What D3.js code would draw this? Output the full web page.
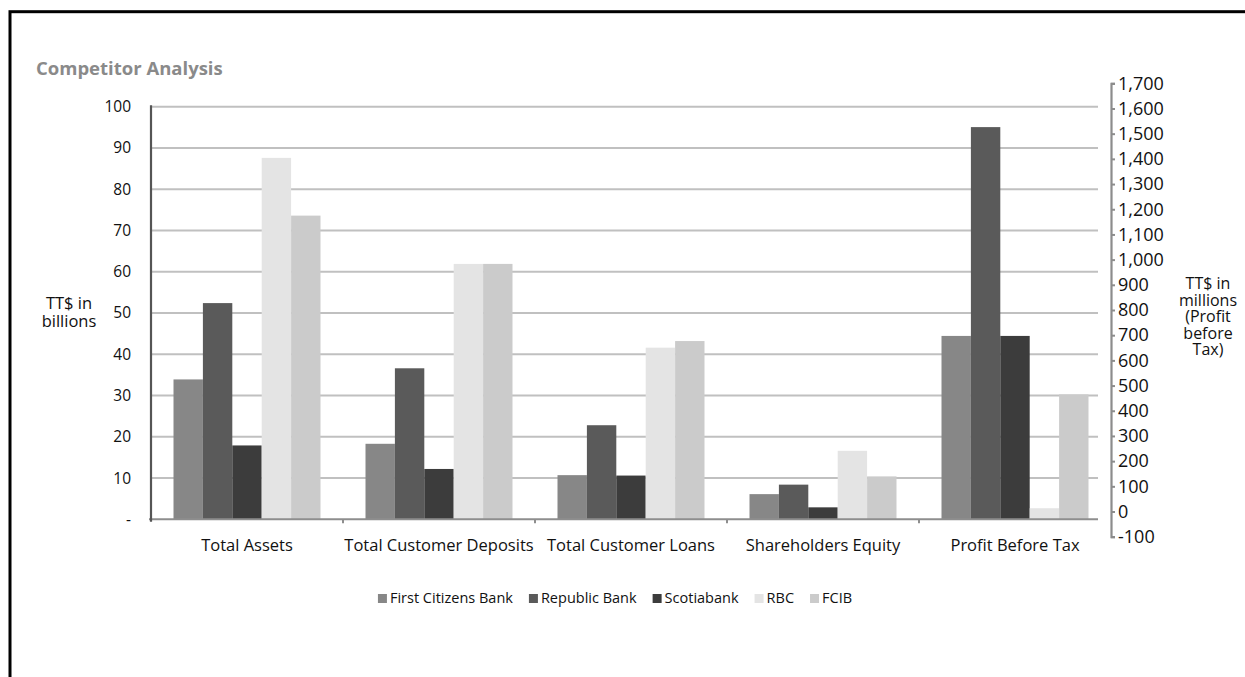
<!DOCTYPE html>
<html>
<head>
<meta charset="utf-8">
<script src="https://cdn.jsdelivr.net/npm/d3@7"></script>
<style>
  body { margin: 0; background: #fff; }
  svg text { font-family: "Open Sans", "Noto Sans", sans-serif; }
</style>
</head>
<body>
<svg id="chart" width="1245" height="677"></svg>
<script>
// categories and series
const categories = ["Total Assets", "Total Customer Deposits", "Total Customer Loans", "Shareholders Equity", "Profit Before Tax"]
const banks = ["First Citizens Bank", "Republic Bank", "Scotiabank", "RBC", "FCIB"]
const colors = ["#878787", "#5a5a5a", "#3c3c3c", "#e4e4e4", "#cbcbcb"]

// TT$ billions, first four categories
const firstCitizens = [33.9, 18.3, 10.7, 6.1]
const republic = [52.4, 36.6, 22.8, 8.4]
const scotia = [17.9, 12.2, 10.6, 2.9]
const rbc = [87.6, 61.9, 41.6, 16.6]
const fcib = [73.6, 61.9, 43.2, 10.4]
// TT$ millions, profit before tax
const profit = [728, 1557, 728, 44, 496]

const leftTicks = [0, 10, 20, 30, 40, 50, 60, 70, 80, 90, 100]
const rightTicks = [-100, 0, 100, 200, 300, 400, 500, 600, 700, 800, 900, 1000, 1100, 1200, 1300, 1400, 1500, 1600, 1700]
const leftTitle = ["TT$ in", "billions"]
const rightTitle = ["TT$ in", "millions", "(Profit", "before", "Tax)"]

const billions = [firstCitizens, republic, scotia, rbc, fcib]

const svg = d3.select("#chart")

// frame
svg.append("rect")
    .attr("x", 10).attr("y", 11.7)
    .attr("width", 1300).attr("height", 700)
    .attr("fill", "none").attr("stroke", "#000").attr("stroke-width", 3)

svg.append("text")
    .attr("x", 36).attr("y", 75)
    .attr("fill", "#8a8a8a").attr("font-size", 18.5).attr("font-weight", "bold")
    .text("Competitor Analysis")

const left = 151, right = 1111, gridEnd = 1098
const x0 = d3.scaleBand().domain(categories).range([left, right])
const x1 = d3.scaleBand().domain(banks).range([22.5, x0.bandwidth() - 22.5])
const y = d3.scaleLinear().domain([0, 100]).range([519.3, 106.7])
const yR = d3.scaleLinear().domain([-100, 1700]).range([536.7, 83.3])

// gridlines
svg.append("g")
    .selectAll("line")
    .data(leftTicks.filter(d => d > 0))
    .enter()
    .append("line")
    .attr("x1", left).attr("x2", gridEnd)
    .attr("y1", d => y(d)).attr("y2", d => y(d))
    .attr("stroke", "#c0c0c0").attr("stroke-width", 2)

// bars
const rows = []
banks.forEach((b, i) => {
    categories.forEach((c, j) => {
        if (j < 4) {
            rows.push({ bank: b, cat: c, top: y(billions[i][j]), h: y(0) - y(billions[i][j]), color: colors[i] })
        } else {
            let h = yR(0) - yR(profit[i])
            rows.push({ bank: b, cat: c, top: y(0) - h, h: h, color: colors[i] })
        }
    })
})

svg.append("g")
    .selectAll("rect")
    .data(rows)
    .enter()
    .append("rect")
    .attr("x", d => x0(d.cat) + x1(d.bank))
    .attr("width", x1.bandwidth())
    .attr("y", d => d.top)
    .attr("height", d => d.h)
    .attr("fill", d => d.color)

// baseline + category ticks
svg.append("line")
    .attr("x1", left - 2).attr("x2", gridEnd)
    .attr("y1", y(0)).attr("y2", y(0))
    .attr("stroke", "#8e8e8e").attr("stroke-width", 2)

svg.append("g")
    .selectAll("line")
    .data(categories.slice(1))
    .enter()
    .append("line")
    .attr("x1", d => x0(d)).attr("x2", d => x0(d))
    .attr("y1", y(0)).attr("y2", y(0) + 4)
    .attr("stroke", "#8e8e8e").attr("stroke-width", 2)

// left axis
const yAxis = d3.axisLeft(y)
    .tickValues(leftTicks)
    .tickSize(0)
    .tickPadding(20)
    .tickFormat(d => d === 0 ? "-" : d)

const gl = svg.append("g").attr("transform", `translate(${left},0)`).call(yAxis)
gl.select(".domain").remove()
gl.selectAll("text").attr("font-size", 15.5).attr("fill", "#111").attr("font-family", null)

svg.append("line")
    .attr("x1", left).attr("x2", left)
    .attr("y1", y(100) - 1.5).attr("y2", y(0) + 2.5)
    .attr("stroke", "#555").attr("stroke-width", 2.2)

// right axis
const yAxisR = d3.axisRight(yR)
    .tickValues(rightTicks)
    .tickSize(4)
    .tickPadding(3)
    .tickFormat(d => d3.format(",")(d).replace("\u2212", "-"))

const gr = svg.append("g").attr("transform", `translate(${right},0)`).call(yAxisR)
gr.select(".domain").attr("stroke", "#8c8c8c").attr("stroke-width", 2.2)
gr.selectAll(".tick line").attr("stroke", "#8c8c8c").attr("stroke-width", 2)
gr.selectAll("text").attr("font-size", 18).attr("fill", "#111").attr("font-family", null)

// category labels
svg.append("g")
    .selectAll("text")
    .data(categories)
    .enter()
    .append("text")
    .attr("x", d => x0(d) + x0.bandwidth() / 2)
    .attr("y", 551)
    .attr("text-anchor", "middle")
    .attr("font-size", 16.5)
    .attr("fill", "#111")
    .text(d => d)

// axis titles
svg.append("g")
    .selectAll("text")
    .data(leftTitle)
    .enter()
    .append("text")
    .attr("x", 69)
    .attr("y", (d, i) => 309 + i * 18)
    .attr("text-anchor", "middle")
    .attr("font-size", 16.5)
    .attr("fill", "#111")
    .text(d => d)

svg.append("g")
    .selectAll("text")
    .data(rightTitle)
    .enter()
    .append("text")
    .attr("x", 1208)
    .attr("y", (d, i) => 289 + i * 16.5)
    .attr("text-anchor", "middle")
    .attr("font-size", 16)
    .attr("fill", "#111")
    .text(d => d)

// legend
const legend = svg.append("g")
const items = legend.selectAll("g")
    .data(banks)
    .enter()
    .append("g")
items.append("rect")
    .attr("width", 9).attr("height", 9)
    .attr("y", 594)
    .attr("fill", (d, i) => colors[i])
items.append("text")
    .attr("x", 12).attr("y", 603)
    .attr("font-size", 14.5)
    .attr("fill", "#111")
    .text(d => d)

let lx = 0
const offsets = []
items.each(function () {
    offsets.push(lx)
    lx += 12 + this.querySelector("text").getComputedTextLength() + 16
})
const total = lx - 16
items.attr("transform", (d, i) => `translate(${615 - total / 2 + offsets[i]},0)`)
</script>
</body>
</html>
